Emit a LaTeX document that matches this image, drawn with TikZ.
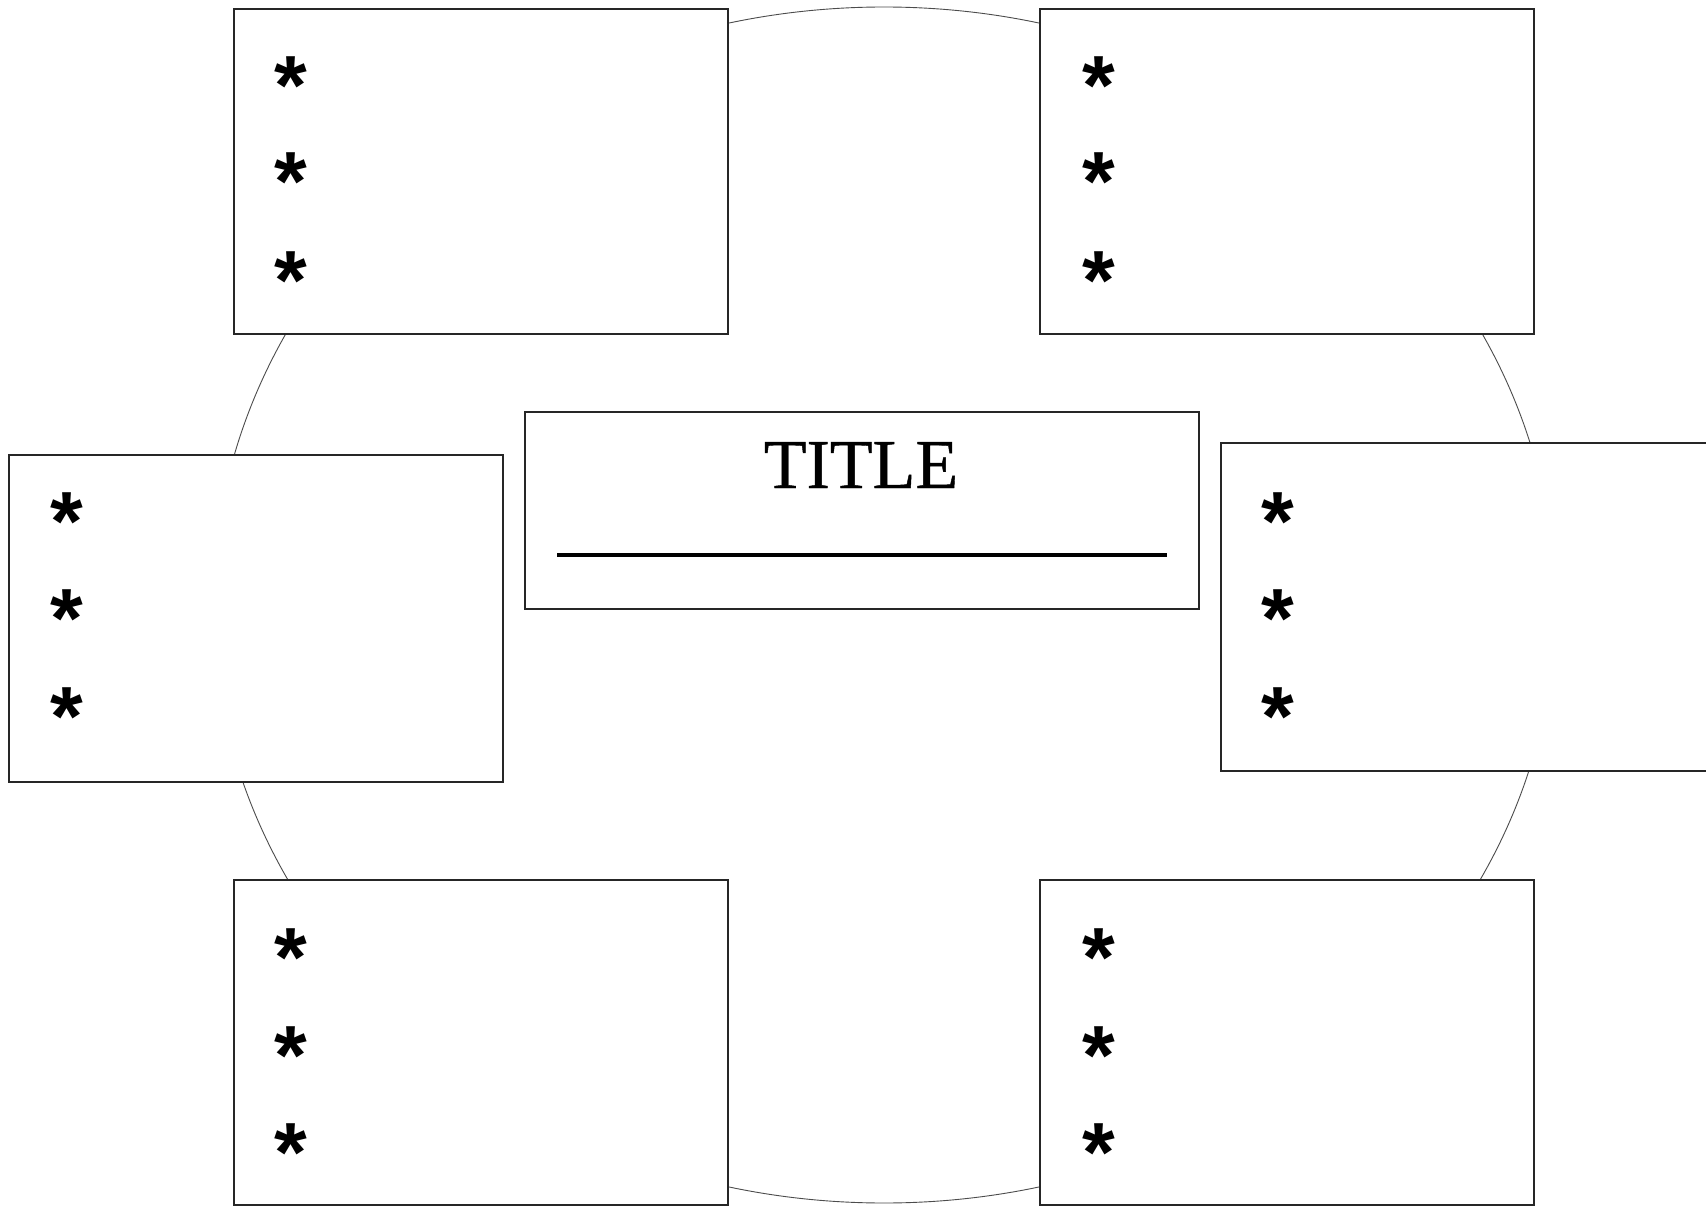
\documentclass[tikz,border=0pt]{standalone}
\usepackage{fontspec}
\setmainfont{Liberation Serif}
\newfontfamily\starfont{Liberation Sans}
\newfontfamily\titlefont[FakeBold=0.6]{Liberation Serif}
\usetikzlibrary{shapes.geometric}
\begin{document}
\begin{tikzpicture}[x=1pt,y=-1pt,
  panel/.style={rectangle, draw=black!85, line width=1.3pt, fill=white,
    minimum width=494pt, minimum height=325pt, inner sep=0pt, outer sep=0pt},
  titlebox/.style={rectangle, draw=black!85, line width=1.3pt, fill=white,
    minimum width=674pt, minimum height=197pt, inner sep=0pt, outer sep=0pt},
  ringstyle/.style={ellipse, draw=black!70, line width=0.9pt,
    minimum width=1342pt, minimum height=1196pt, inner sep=0pt, outer sep=0pt},
  bullet/.style={font=\starfont\bfseries\fontsize{84}{84}\selectfont,
    inner sep=0pt, anchor=base},
  titletext/.style={font=\titlefont\fontsize{70}{74}\selectfont, inner sep=0pt, anchor=base},
  rule/.style={line width=4.2pt, black}
  ]
\useasboundingbox (0,0) rectangle (1706,1206);
\clip (0,0) rectangle (1706,1206);
\fill[white] (0,0) rectangle (1706,1206);
\node[ringstyle] (ring) at (884,605) {};
% panels
\node[panel] (tl) at (481,171.5) {};
\node[panel] (tr) at (1287,171.5) {};
\node[panel, minimum height=327pt] (lf) at (256,618.5) {};
\node[panel, minimum height=328pt] (rt) at (1468,607) {};
\node[panel] (bl) at (481,1042.5) {};
\node[panel] (br) at (1287,1042.5) {};
\node[titlebox] (tb) at (862,510.5) {};
% title
\node[titletext] (title) at (861,488) {TITLE};
\coordinate (ruleA) at (557,555);
\coordinate (ruleB) at (1167,555);
\draw[rule] (ruleA) -- (ruleB);
% bullets
\node[bullet] (tl1) at (291,115) {*};
\node[bullet] (tl2) at (291,211) {*};
\node[bullet] (tl3) at (291,310) {*};
\node[bullet] (tr1) at (1099,115) {*};
\node[bullet] (tr2) at (1099,211) {*};
\node[bullet] (tr3) at (1099,310) {*};
\node[bullet] (lf1) at (67,550) {*};
\node[bullet] (lf2) at (67,647) {*};
\node[bullet] (lf3) at (67,745) {*};
\node[bullet] (rt1) at (1278,550) {*};
\node[bullet] (rt2) at (1278,647) {*};
\node[bullet] (rt3) at (1278,745) {*};
\node[bullet] (bl1) at (291,986) {*};
\node[bullet] (bl2) at (291,1084) {*};
\node[bullet] (bl3) at (291,1181) {*};
\node[bullet] (br1) at (1099,986) {*};
\node[bullet] (br2) at (1099,1084) {*};
\node[bullet] (br3) at (1099,1181) {*};
\end{tikzpicture}
\end{document}
